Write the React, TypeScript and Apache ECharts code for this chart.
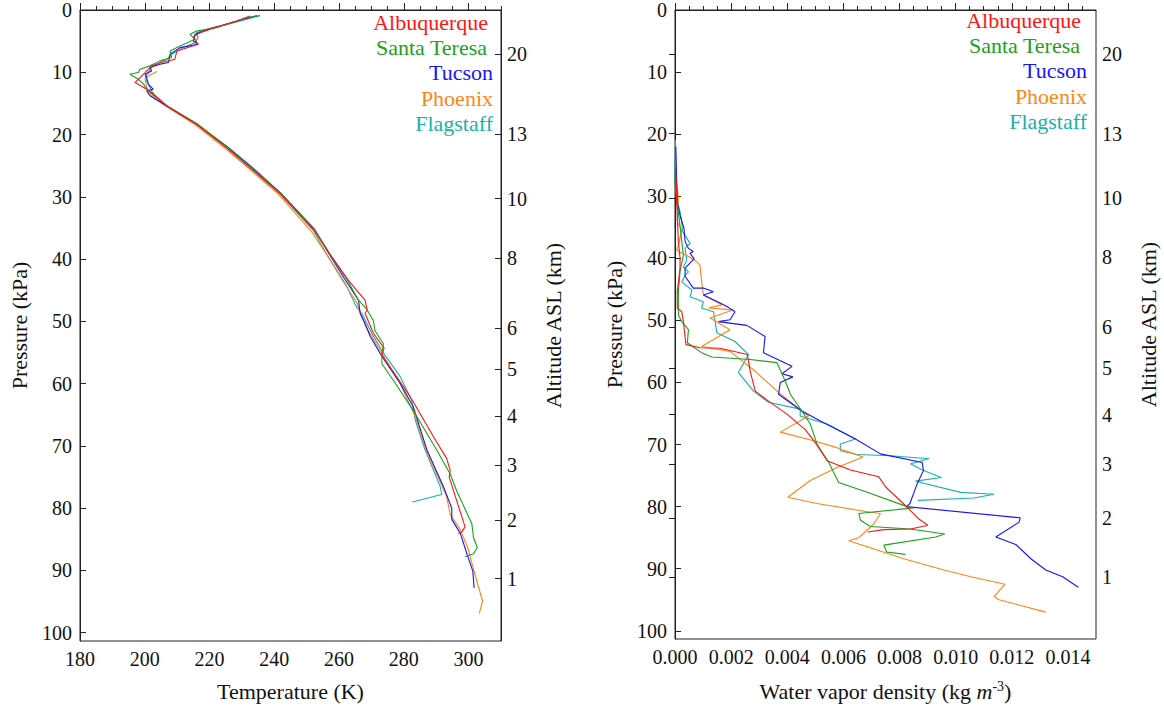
import React, { useEffect, useRef } from "react";
import * as echarts from "echarts";

// ---------- DATA ----------
const cityNames = ["Albuquerque", "Santa Teresa", "Tucson", "Phoenix", "Flagstaff"];
const cityColors = ["#ff1414", "#1aa31a", "#1414ff", "#ff8514", "#19b0b0"];

// [temperature K, pressure kPa]
const tempAlbuquerque = [[232.5,0.96],[228.4,1.76],[222.2,2.72],[217.1,3.63],[215.0,4.33],[216.5,5.5],[209.9,6.57],[209.3,7.91],[205.2,8.44],[202.1,8.97],[200.1,10.04],[197.0,11.65],[200.6,12.71],[202.1,13.25],[206.5,15.3],[215.8,18.3],[225.2,22.1],[232.4,25.3],[241.8,29.5],[252.3,35.4],[257.0,39.1],[263.0,43.5],[268.0,46.6],[268.7,48.2],[268.0,48.7],[270.6,51.9],[273.9,54.3],[273.2,55.4],[279.9,60.5],[282.9,62.9],[289.1,68.5],[293.2,72.0],[294.3,73.9],[294.0,75.0],[298.9,83.0],[297.9,83.8],[296.8,84.1]];
const tempSantaTeresa = [[235.6,0.91],[231.5,1.23],[225.3,2.3],[222.2,2.83],[216.0,3.37],[214.0,3.9],[215.5,4.7],[210.9,5.77],[207.8,6.57],[208.3,7.64],[204.7,8.17],[201.6,8.97],[198.5,9.51],[198.0,10.04],[195.4,10.31],[198.0,11.11],[199.6,11.91],[201.1,12.98],[206.8,15.4],[216.2,18.3],[225.4,22.0],[232.6,25.2],[242.0,29.4],[252.5,35.3],[257.2,39.2],[262.5,43.3],[266.0,46.6],[268.5,48.0],[270.6,49.9],[271.1,51.5],[273.7,53.6],[273.2,55.4],[273.2,56.8],[276.8,59.5],[282.9,64.3],[290.2,70.7],[294.3,74.5],[296.3,77.2],[301.0,82.5],[301.5,84.7],[302.7,86.3],[301.5,87.3],[298.9,87.8]];
const tempTucson = [[234.6,0.91],[230.4,1.5],[223.2,2.56],[221.2,2.83],[215.5,3.9],[215.0,4.97],[216.5,5.5],[210.9,6.04],[207.8,7.11],[207.3,8.44],[204.7,8.71],[201.6,9.24],[202.1,9.78],[200.1,10.31],[200.6,10.84],[201.1,11.91],[202.6,12.71],[200.6,12.98],[201.6,13.78],[207.0,15.5],[216.3,18.4],[225.6,22.0],[233.0,25.2],[242.0,29.4],[252.4,35.2],[256.5,38.8],[261.5,43.0],[266.0,46.6],[266.5,48.7],[268.0,50.3],[269.6,52.4],[273.2,55.6],[278.8,59.9],[282.9,63.7],[287.1,70.6],[292.2,76.5],[294.8,80.0],[294.8,81.8],[297.4,84.0],[299.4,87.2],[301.3,90.1],[301.7,92.8]];
const tempPhoenix = [[203.7,9.88],[201.1,10.58],[200.1,11.11],[200.6,12.5],[201.1,13.25],[206.3,15.4],[215.5,18.4],[224.8,22.2],[232.0,25.4],[241.3,29.6],[251.5,35.6],[256.2,39.3],[261.5,43.8],[265.5,47.0],[267.0,49.2],[268.0,50.6],[272.6,54.6],[278.8,59.9],[283.5,65.3],[287.1,71.1],[293.2,78.1],[294.3,81.0],[297.4,83.4],[299.9,86.6],[301.5,89.8],[304.3,94.9],[303.3,96.9]];
const tempFlagstaff = [[235.4,0.91],[231.5,1.5],[225.8,2.3],[219.1,3.1],[216.0,3.63],[216.5,4.43],[215.5,5.24],[211.9,6.04],[208.3,7.11],[206.8,7.91],[204.7,8.44],[202.1,9.14],[201.1,10.04],[200.1,10.84],[201.1,11.91],[202.1,12.98],[203.2,13.78],[207.2,15.5],[216.2,18.3],[225.3,22.1],[232.5,25.3],[241.7,29.5],[252.0,35.4],[256.3,39.3],[262.0,44.0],[264.4,46.6],[265.4,47.7],[267.0,48.7],[270.1,51.9],[273.7,55.1],[278.8,58.8],[282.4,62.6],[283.5,65.8],[286.5,70.6],[291.2,76.5],[291.7,77.8],[287.1,78.4],[282.6,79.0]];

// [water vapor density kg/m^3, pressure kPa]
const vaporAlbuquerque = [[0.00002,25.5],[0.00004,27.7],[0.00008,33.1],[0.00012,37.3],[0.00018,40.0],[0.00018,41.6],[0.00008,45.4],[0.00008,48.0],[0.00024,48.6],[0.0003,50.2],[0.00039,53.9],[0.00089,54.4],[0.00161,54.5],[0.00258,55.5],[0.00268,58.2],[0.00286,61.4],[0.00339,63.2],[0.00399,65.1],[0.00464,67.6],[0.005,69.7],[0.00542,72.6],[0.00625,74.1],[0.00726,75.2],[0.0075,76.8],[0.00827,80.1],[0.00869,82.0],[0.00901,83.0],[0.00839,83.6],[0.00744,83.7],[0.00687,84.1]];
const vaporSantaTeresa = [[0.00001,24],[0,27.7],[0.00006,30.9],[0.00015,33.6],[0.00024,37.3],[0.0003,39.5],[0.00018,42.1],[0.00012,45.4],[0.00012,49.1],[0.00024,50.2],[0.00048,51.5],[0.00044,53.6],[0.00095,55.2],[0.00131,55.9],[0.00268,56.3],[0.00363,56.8],[0.00393,59.8],[0.00411,61.9],[0.00452,64.6],[0.00482,66.7],[0.00506,69.9],[0.00548,72.9],[0.00583,76.1],[0.00685,77.7],[0.00827,80.0],[0.00851,80.2],[0.00696,80.9],[0.00655,81.1],[0.00661,82.2],[0.00696,83.2],[0.00839,83.6],[0.00961,84.4],[0.00929,84.9],[0.00744,86.2],[0.00754,87.3],[0.00821,87.7]];
const vaporTucson = [[0.00003,22.0],[0.00006,27.7],[0.00008,30.9],[0.00018,33.1],[0.00032,35.2],[0.00036,37.3],[0.00048,38.4],[0.00065,38.9],[0.00054,39.2],[0.00068,40.1],[0.00036,41.6],[0.00036,42.9],[0.00065,44.8],[0.00101,44.8],[0.00137,45.4],[0.00101,45.9],[0.00161,47.2],[0.0019,47.9],[0.00214,48.6],[0.00196,49.9],[0.00155,50.2],[0.00256,50.8],[0.00321,52.6],[0.00315,55.2],[0.00417,57.4],[0.00381,58.6],[0.0042,59.1],[0.00375,60.0],[0.00369,61.9],[0.00452,64.6],[0.00518,66.2],[0.00643,69.1],[0.00732,71.5],[0.00881,72.9],[0.00885,74.2],[0.00863,76.3],[0.00837,79.5],[0.00825,80.0],[0.0123,81.8],[0.01226,82.5],[0.01143,84.9],[0.01214,86.1],[0.01268,88.4],[0.01321,90.2],[0.01381,91.3],[0.01437,93.0]];
const vaporPhoenix = [[0.00002,25],[0.00006,27.7],[0.00012,30.4],[0.00008,34.1],[0.00024,35.5],[0.00012,37.9],[0.00006,38.7],[0.00048,39.7],[0.00071,40.3],[0.00089,41.1],[0.00095,43.8],[0.00101,45.9],[0.00167,47.5],[0.00119,48.0],[0.00208,48.3],[0.00125,49.6],[0.00196,51.5],[0.00095,54.2],[0.00196,55.0],[0.00286,58.2],[0.00369,61.6],[0.00452,64.6],[0.00476,65.4],[0.00375,68.0],[0.00494,69.4],[0.00577,70.5],[0.0067,72.0],[0.00577,73.7],[0.00482,75.8],[0.00402,78.5],[0.00506,79.5],[0.00696,80.9],[0.00732,81.1],[0.00708,82.8],[0.00655,85.0],[0.00619,85.5],[0.0072,87.0],[0.00815,88.4],[0.00958,90.2],[0.01054,91.3],[0.01176,92.5],[0.01137,94.5],[0.01155,95.0],[0.01321,97.0]];
const vaporFlagstaff = [[0.00002,21.0],[0,27.7],[0.00008,30.9],[0.00018,32.5],[0.00024,34.1],[0.00027,35.7],[0.00054,37.6],[0.00036,38.4],[0.00042,40.3],[0.0003,41.4],[0.00048,42.2],[0.00036,42.7],[0.00024,43.8],[0.0006,45.1],[0.00054,46.2],[0.00101,47.0],[0.00095,48.0],[0.00137,48.6],[0.00143,50.2],[0.00149,52.0],[0.00214,53.4],[0.00262,55.5],[0.00226,58.4],[0.0028,61.4],[0.00333,63.2],[0.00446,64.3],[0.00446,65.4],[0.00542,66.7],[0.00643,69.1],[0.00589,69.9],[0.00589,71.0],[0.00649,71.6],[0.00768,71.8],[0.00905,72.3],[0.00839,73.1],[0.00881,74.1],[0.00949,75.3],[0.00857,75.9],[0.01018,77.7],[0.01137,78.0],[0.01065,78.6],[0.00865,79.0]];

// axis ticks
const pressureTicks = [0, 10, 20, 30, 40, 50, 60, 70, 80, 90, 100];
const altitudeLabels = ["20", "13", "10", "8", "6", "5", "4", "3", "2", "1"];
const altitudePressures = [7.1, 19.9, 30.3, 39.8, 51.1, 57.7, 65.2, 73.1, 81.9, 91.3];
const tempMajorTicks = [180, 200, 220, 240, 260, 280, 300];
const tempMinorTicks = [185, 190, 195, 205, 210, 215, 225, 230, 235, 245, 250, 255, 265, 270, 275, 285, 290, 295, 305, 310];
const vaporMajorTicks = [0, 0.002, 0.004, 0.006, 0.008, 0.01, 0.012, 0.014];
const vaporMinorTicks = [0.0005, 0.001, 0.0015, 0.0025, 0.003, 0.0035, 0.0045, 0.005, 0.0055, 0.0065, 0.007, 0.0075, 0.0085, 0.009, 0.0095, 0.0105, 0.011, 0.0115, 0.0125, 0.013, 0.0135, 0.0145];

const tempSeries = [tempAlbuquerque, tempSantaTeresa, tempTucson, tempPhoenix, tempFlagstaff];
const vaporSeries = [vaporAlbuquerque, vaporSantaTeresa, vaporTucson, vaporPhoenix, vaporFlagstaff];

const P_MAX = 101.325;
const FONT = "Liberation Serif";
const INK = "#111";

function buildOption() {
  const labelStyle = { fontFamily: FONT, fontSize: 20, color: INK };
  const nameStyle = { fontFamily: FONT, fontSize: 22, color: INK };
  const line = { show: true, lineStyle: { color: "#222", width: 1 } };

  const xMajor = (grid: number, min: number, max: number, ticks: number[], name: string, gap: number, fmt: (v: number) => string, rich?: any) => ({
    type: "value", gridIndex: grid, min, max, position: "bottom",
    axisLine: line,
    axisTick: { show: true, inside: true, length: 7, customValues: ticks, lineStyle: { color: "#222" } },
    axisLabel: { ...labelStyle, margin: 8, customValues: ticks, formatter: fmt },
    splitLine: { show: false },
    name, nameLocation: "middle", nameGap: gap,
    nameTextStyle: rich ? { ...nameStyle, rich } : { ...nameStyle },
  });
  const xMinor = (grid: number, min: number, max: number, ticks: number[]) => ({
    type: "value", gridIndex: grid, min, max, position: "bottom",
    axisLine: { show: false },
    axisTick: { show: true, inside: true, length: 4, customValues: ticks, lineStyle: { color: "#222" } },
    axisLabel: { show: false },
    splitLine: { show: false },
  });
  const yLeft = (grid: number, gap: number) => ({
    type: "value", gridIndex: grid, min: 0, max: P_MAX, inverse: true, position: "left",
    axisLine: line,
    axisTick: { show: true, inside: true, length: 6, customValues: pressureTicks, lineStyle: { color: "#222" } },
    axisLabel: { ...labelStyle, margin: 8, customValues: pressureTicks, formatter: (v: number) => String(Math.round(v)) },
    splitLine: { show: false },
    name: "Pressure (kPa)", nameLocation: "middle", nameGap: gap, nameRotate: 90,
    nameTextStyle: { ...nameStyle },
  });
  const yRight = (grid: number, gap: number) => ({
    type: "value", gridIndex: grid, min: 0, max: P_MAX, inverse: true, position: "right",
    axisLine: line,
    axisTick: { show: true, inside: true, length: 6, customValues: altitudePressures, lineStyle: { color: "#222" } },
    axisLabel: {
      ...labelStyle, margin: 6, customValues: altitudePressures,
      formatter: (v: number) => {
        let best = 0;
        altitudePressures.forEach((p, i) => { if (Math.abs(p - v) < Math.abs(altitudePressures[best] - v)) best = i; });
        return altitudeLabels[best];
      },
    },
    splitLine: { show: false },
    name: "Altitude ASL (km)", nameLocation: "middle", nameGap: gap, nameRotate: 90,
    nameTextStyle: { ...nameStyle },
  });

  const series: any[] = [];
  tempSeries.forEach((d, i) => series.push({
    type: "line", name: cityNames[i], xAxisIndex: 0, yAxisIndex: 0, data: d,
    showSymbol: false, symbol: "none", lineStyle: { color: cityColors[i], width: 1.1 }, z: 10 - i,
  }));
  vaporSeries.forEach((d, i) => series.push({
    type: "line", name: cityNames[i], xAxisIndex: 2, yAxisIndex: 2, data: d,
    showSymbol: false, symbol: "none", lineStyle: { color: cityColors[i], width: 1.1 }, z: 10 - i,
  }));

  const legendRight1 = [488, 487, 493, 493, 493];
  const legendY1 = [22, 47, 72, 98, 123];
  const legendRight2 = [1081, 1080, 1087, 1087, 1087];
  const legendY2 = [20, 45, 70, 96, 121];
  const graphic: any[] = [];
  cityNames.forEach((n, i) => {
    [[legendRight1[i], legendY1[i]], [legendRight2[i], legendY2[i]]].forEach(([x, y]) => {
      graphic.push({
        type: "text", x, y, z: 100,
        style: {
          text: n, fill: cityColors[i], fontFamily: FONT, fontSize: 22,
          align: "right", verticalAlign: "middle", textAlign: "right", textVerticalAlign: "middle",
        },
      });
    });
  });

  return {
    animation: false,
    backgroundColor: "#fff",
    textStyle: { fontFamily: FONT, color: INK },
    grid: [
      { left: 80, top: 9, width: 421, height: 632, show: true, borderColor: "#222", borderWidth: 1, backgroundColor: "transparent" },
      { left: 675, top: 7, width: 421, height: 632, show: true, borderColor: "#222", borderWidth: 1, backgroundColor: "transparent" },
    ],
    xAxis: [
      xMajor(0, 180, 310, tempMajorTicks, "Temperature (K)", 39, (v: number) => String(Math.round(v))),
      xMinor(0, 180, 310, tempMinorTicks),
      xMajor(1, 0, 0.015, vaporMajorTicks, "Water vapor density (kg {it|m}{sup|-3})", 40, (v: number) => v.toFixed(3), {
        it: { fontFamily: FONT, fontSize: 22, fontStyle: "italic", color: INK },
        sup: { fontFamily: FONT, fontSize: 14, color: INK, verticalAlign: "top", padding: [0, 0, 10, 0] },
      }),
      xMinor(1, 0, 0.015, vaporMinorTicks),
    ],
    yAxis: [yLeft(0, 50), yRight(0, 41), yLeft(1, 50), yRight(1, 41)],
    series,
    graphic,
  };
}

export default function App() {
  const ref = useRef<HTMLDivElement>(null);
  useEffect(() => {
    if (!ref.current) return;
    const chart = echarts.init(ref.current, null, { renderer: "svg" });
    chart.setOption(buildOption() as any);
    return () => chart.dispose();
  }, []);
  return <div ref={ref} style={{ width: 1164, height: 711, position: "absolute", left: 0, top: 0 }} />;
}
